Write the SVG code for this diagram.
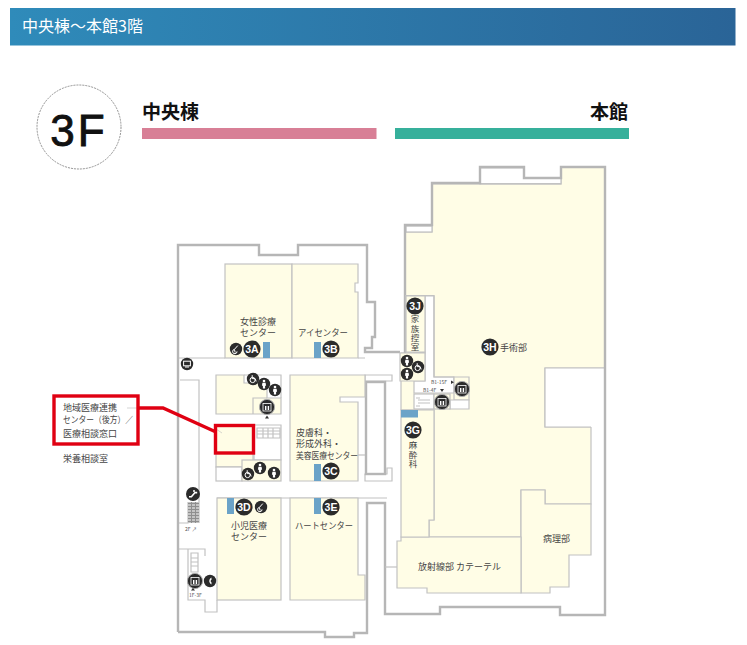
<svg xmlns="http://www.w3.org/2000/svg" xmlns:xlink="http://www.w3.org/1999/xlink" width="747" height="645" viewBox="0 0 747 645">
<style>
text{font-family:"Noto Sans CJK JP","Liberation Sans",sans-serif;fill:#444}
.room{fill:#fffde6;stroke:#c2c2c2;stroke-width:1.2}
.white{fill:#fff;stroke:#c2c2c2;stroke-width:1.2}
.wall{fill:none;stroke:#b6b6b6;stroke-width:2.4}
.thin{fill:none;stroke:#c2c2c2;stroke-width:1.2}
.bar{fill:#6ba3c8}
.lbl{font-size:9px;text-anchor:middle}
.vert{font-size:8.500px;writing-mode:vertical-rl;letter-spacing:.8px}
.small{font-size:5px;fill:#555}
.bt{font-family:"Liberation Sans",sans-serif;font-size:10.5px;font-weight:700;fill:#fff;text-anchor:middle}
.dk{fill:#2b2b2b}
.red{fill:none;stroke:#e00012;stroke-width:3.4}
.hd{font-size:19px;font-weight:700;fill:#111}
</style>
<defs>
<linearGradient id="hg" x1="0" x2="1" y1="0" y2="0"><stop offset="0" stop-color="#2f8bba"/><stop offset="1" stop-color="#2a6497"/></linearGradient>
<pattern id="hatch" width="4" height="3" patternUnits="userSpaceOnUse"><rect width="4" height="3" fill="#8f8f8f"/><rect x="0" y="0" width="3" height="2" fill="#c4c4c4"/></pattern>
<g id="wc"><circle r="6.2" class="dk"/><circle cy="-3" r="1.3" fill="#fff"/><path d="M-1.6-1.2h3.2l.5 3h-1v2.6h-2.2v-2.6h-1z" fill="#fff"/></g>
<g id="wheel"><circle r="6.2" class="dk"/><circle cx="-.4" cy="1" r="2.6" fill="none" stroke="#fff"/><path d="M-.8-3.8v3.4h2.8l1.2 2.8" fill="none" stroke="#fff"/></g>
<g id="ev"><circle r="7.6" class="dk" stroke="#aaa" stroke-width="1"/><rect x="-4" y="-3.5" width="8" height="7.5" fill="none" stroke="#fff" stroke-width=".8"/><path d="M-2-1h1.4v4h-1.4zM.7-1h1.4v4H.7z" fill="#fff"/></g>
<g id="mono"><circle r="6.2" class="dk"/><rect x="-3.4" y="-2.8" width="6.8" height="4.6" fill="none" stroke="#fff"/><path d="M-2 3h4" stroke="#fff"/></g>
<g id="bab"><circle r="6.2" class="dk"/><path d="M1.8-3.4-1.6.4-.8 3.6M-1.6.4A2.2 2.2 0 1 0 1 2.4" fill="none" stroke="#fff"/></g>
<g id="tel"><circle r="6.2" class="dk"/><path d="M1.4-3.4C-1.4-2-1.4 2 1.4 3.4L1.6 1.6C.4 1 .4-1 1.6-1.6z" fill="#fff"/></g>
<g id="esc"><circle r="7" class="dk"/><path d="M-4 2.8h2.4L2 -1.4H4.2" fill="none" stroke="#fff" stroke-width="1.6"/><circle cx="1" cy="-3" r="1" fill="#fff"/></g>
<circle id="badge" r="8.6" class="dk"/>
</defs>

<g id="header">
<rect x="10" y="8" width="725.5" height="37.5" fill="url(#hg)"/>
<text x="22" y="31.500" font-size="16" style="fill:#fff">中央棟～本館3階</text>
</g>
<g id="floor-badge">
<circle cx="79" cy="127" r="42" fill="#fff" stroke="#777" stroke-width=".8" stroke-dasharray="2 1"/>
<text x="79" y="146" font-size="44" letter-spacing="3" text-anchor="middle" stroke="#111" stroke-width=".9" style="font-family:'Liberation Sans',sans-serif;fill:#111">3F</text>
</g>
<g id="legend">
<text class="hd" x="142" y="119">中央棟</text>
<rect x="142" y="128" width="234.500" height="11" fill="#d87f96"/>
<text class="hd" x="628" y="119" text-anchor="end">本館</text>
<rect x="395" y="128" width="234" height="11" fill="#36b09b"/>
</g>

<g id="plan">
<path class="room" d="M405 232H432V184H561V167H605V368H545V427H591V504H545V490H521V537H429V520H434V410H401V353H405z"/>
<rect x="406" y="226" width="26" height="6" class="white"/>
<path class="white" d="M480 168H524V178H561V184H480z" stroke="none"/>
<path class="thin" d="M432 183.500H561"/>
<path d="M545 368H605V427H545z" fill="#fff" stroke="none"/>
<path class="thin" d="M605 368H545V427H591"/>
<path class="room" d="M521 490H545V504H591V555H569V587H550V593H521z"/>
<path class="room" d="M397 541H401V537H521V593H427V588H397z"/>
<path class="room" d="M401 410H434V520H429V537H401z"/>
<rect class="bar" x="401" y="410" width="17" height="7.500"/>
<path class="thin" d="M178 358H225M358 358H365"/>
<path class="thin" d="M180 380H199V523M178 523H188V502M178 549H188V600H205V612H217V600M188 549H205V556"/>
<path class="thin" d="M217 498H387"/>
<path class="wall" d="M178 632V245H259V255H298V245H367V302H375V337H372V348H365V352H400"/>
<path class="wall" d="M178 632H325V637H354V633H367V503H385V614H440V607H560V615H605V167H561V178H524V167H480V183H432V225H405V353"/>
<path class="thin" d="M385 567H397"/>
<path class="white" d="M406 296H434V377H454V393H414V353H425V352H406z" stroke="none"/>
<path class="thin" d="M405 295.500H434V377H454M425 296V381H414"/>
<path class="room" d="M406 296H425V352H406z"/>
<path class="room" d="M400 353H425V381H400z"/>
<path class="room" d="M454 377H469V400H454z"/>
<path class="white" d="M450 400H469V409H450z"/>
<rect class="white" x="414" y="394" width="20" height="15"/>
<rect class="room" x="434" y="394" width="16" height="15"/>
<path class="thin" d="M418 400H430M418 403H430M416 398H420M416 406H420"/>
<rect x="188" y="502" width="11" height="21" fill="url(#hatch)"/>
<path class="thin" d="M191 553H198V572H191zM191 558H198M191 562H198M191 566H198"/>
<path class="white" d="M365 375H392V381H365zM387 468H392V481H365V474H387z"/>
<rect x="366" y="382" width="19" height="92" fill="#fff" class="wall"/>
<path class="white" d="M254 425H281V460H254z"/>
<path class="thin" d="M257 428H280V438H257zM257 431H280M257 434H280M263 428V438M268 428V438M273 428V438" stroke-width=".7"/>
<path d="M267 415.500l2 3h-4z" fill="#333"/>
</g>

<g id="block-north">
<path class="room" d="M216 375H244V383H267V398H281V414H216z"/>
<path class="thin" d="M267 375H281V398M253 414V398H267M244 375H267"/>
<use xlink:href="#wheel" x="253" y="379"/><use xlink:href="#wc" x="264" y="384"/><use xlink:href="#wc" x="275" y="390"/>
<use xlink:href="#ev" x="267" y="407"/>
</g>
<g id="block-south">
<rect class="room" x="216" y="425" width="37" height="42"/>
<rect class="white" x="216" y="467" width="26" height="14"/>
<rect class="room" x="242" y="460" width="39" height="21"/>
<use xlink:href="#wheel" x="248" y="474"/><use xlink:href="#wc" x="260" y="468"/><use xlink:href="#wc" x="274" y="473"/>
</g>
<g id="room-3A">
<rect class="room" x="225" y="264" width="67" height="94"/>
<rect class="bar" x="263" y="342" width="7" height="16"/>
<use xlink:href="#bab" x="236" y="349"/><use xlink:href="#badge" x="252" y="349"/>
<text class="bt" x="252" y="353">3A</text>
<text class="lbl" x="258" y="325">女性診療</text><text class="lbl" x="258" y="336">センター</text>
</g>
<g id="room-3B">
<path class="room" d="M292 264H358V283H355V292H358V358H292z"/>
<rect class="bar" x="314" y="342" width="7" height="16"/>
<use xlink:href="#badge" x="331" y="349"/>
<text class="bt" x="331" y="353">3B</text>
<text class="lbl" x="323" y="336" textLength="50" lengthAdjust="spacingAndGlyphs">アイセンター</text>
</g>
<g id="room-3C">
<path class="room" d="M290 375H365V397H340V402H358V481H290z"/>
<path class="thin" d="M358 455H365"/>
<rect class="bar" x="314" y="464" width="7" height="17"/>
<use xlink:href="#badge" x="331" y="471"/>
<text class="bt" x="331" y="475">3C</text>
<text x="296" y="435.500" font-size="9">皮膚科・</text><text x="296" y="446.500" font-size="9">形成外科・</text>
<text x="296" y="458.500" font-size="9" textLength="62" lengthAdjust="spacingAndGlyphs">美容医療センター</text>
</g>
<g id="room-3D">
<rect class="room" x="217" y="498" width="64" height="102"/>
<rect class="bar" x="227" y="498" width="7" height="16"/>
<use xlink:href="#badge" x="244" y="507"/><use xlink:href="#bab" x="261" y="507"/>
<text class="bt" x="244" y="511">3D</text>
<text class="lbl" x="249" y="528.500">小児医療</text><text class="lbl" x="249" y="539.500">センター</text>
</g>
<g id="room-3E">
<path class="room" d="M290 498H358V575H365V600H290z"/>
<rect class="bar" x="314" y="498" width="7" height="16"/>
<use xlink:href="#badge" x="331" y="507"/>
<text class="bt" x="331" y="511">3E</text>
<text class="lbl" x="324" y="528.500" textLength="58" lengthAdjust="spacingAndGlyphs">ハートセンター</text>
</g>
<g id="room-3J">
<use xlink:href="#badge" x="415" y="306"/>
<text class="bt" x="415" y="310">3J</text>
<text class="vert" x="415" y="315">家族控室</text>
</g>
<g id="room-3G">
<use xlink:href="#badge" x="413" y="430"/>
<text class="bt" x="413" y="434">3G</text>
<text class="vert" x="413" y="441">麻酔科</text>
</g>
<g id="room-3H">
<use xlink:href="#badge" x="490" y="347"/>
<text class="bt" x="490" y="351">3H</text>
<text x="500" y="350.500" font-size="9">手術部</text>
</g>
<g id="room-radiology"><text x="418" y="569.500" font-size="9" textLength="83" lengthAdjust="spacing">放射線部 カテーテル</text></g>
<g id="room-pathology"><text x="543" y="542" font-size="9" textLength="27" lengthAdjust="spacing">病理部</text></g>
<g id="facilities">
<use xlink:href="#wc" x="407" y="361"/><use xlink:href="#wc" x="407" y="374"/><use xlink:href="#wheel" x="418" y="367"/>
<use xlink:href="#ev" x="462" y="389"/><use xlink:href="#ev" x="442" y="402"/>
<text class="small" x="431" y="384">B1-15F</text><path d="M451 380.500l3 1.800-3 1.800z" fill="#333"/>
<text class="small" x="423" y="392">B1-4F</text><path d="M440 389h4l-2 3z" fill="#333"/>
<use xlink:href="#mono" x="187" y="364"/>
<use xlink:href="#esc" x="193" y="494"/>
<text class="small" x="185" y="531">2F ↗</text>
<use xlink:href="#ev" x="195" y="581"/><use xlink:href="#tel" x="210" y="581"/>
<path d="M193 588l2 2.500h-4z" fill="#333"/>
<text class="small" x="189" y="597">1F-3F</text>
</g>

<g id="connectors">
<path d="M127 408H138M216 429l6 4" fill="none" stroke="#bbb" stroke-width=".6"/>
<path d="M138 408H163L216 432" class="red"/>
</g>
<g id="callout">
<rect class="red" x="54" y="396" width="84" height="48"/>
<text x="63" y="411" font-size="9">地域医療連携</text>
<text x="63" y="423" font-size="9" textLength="70" lengthAdjust="spacingAndGlyphs">センター（後方）／</text>
<text x="63" y="437" font-size="9">医療相談窓口</text>
<text x="63" y="462" font-size="9">栄養相談室</text>
<rect class="red" x="215.500" y="425.500" width="38" height="27.500"/>
</g>
</svg>
